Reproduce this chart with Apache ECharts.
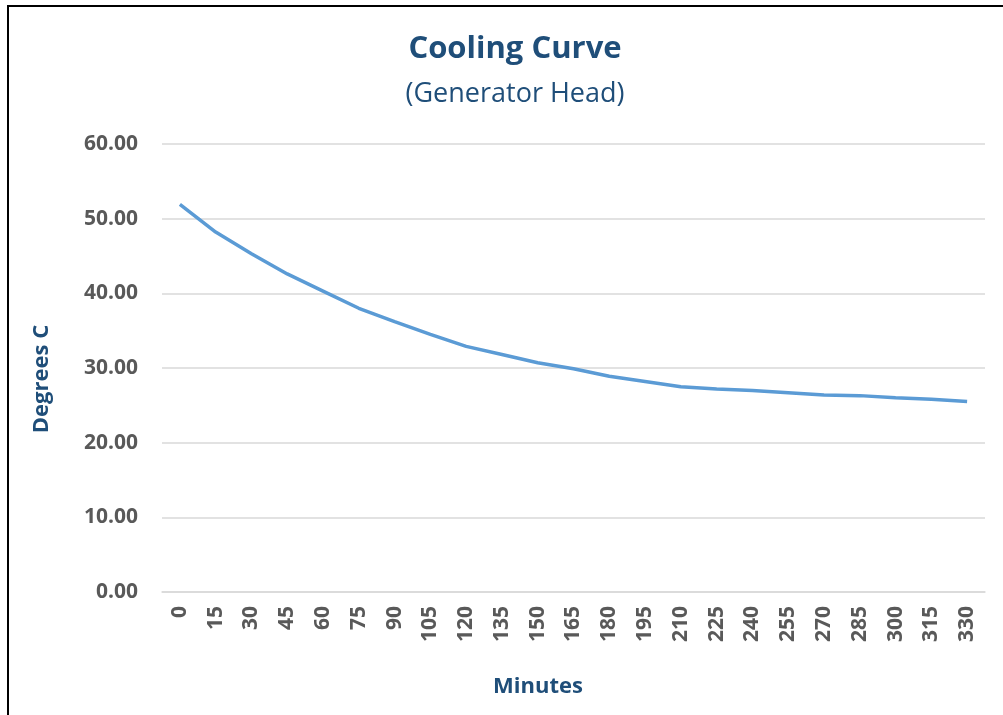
<!DOCTYPE html>
<html>
<head>
<meta charset="utf-8">
<script src="https://cdn.jsdelivr.net/npm/echarts@6/dist/echarts.min.js"></script>
<style>
  html, body { margin: 0; padding: 0; background: #fff; overflow: hidden; }
  #frame { position: absolute; left: 7px; top: 5px; width: 1100px; height: 800px; border: 2px solid #000; }
  #chart { position: absolute; left: 0; top: 0; width: 1003px; height: 715px; }
</style>
</head>
<body>
<div id="frame"></div>
<div id="chart"></div>
<script>
var minutes = ['0', '15', '30', '45', '60', '75', '90', '105', '120', '135', '150', '165',
  '180', '195', '210', '225', '240', '255', '270', '285', '300', '315', '330'];
var degrees = [51.9, 48.2, 45.3, 42.6, 40.3, 38.0, 36.2, 34.5, 32.9, 31.8, 30.7, 29.9,
  28.9, 28.2, 27.5, 27.2, 27.0, 26.7, 26.4, 26.3, 26.0, 25.8, 25.5];

var fontName = 'Open Sans';
var darkBlue = '#1F4E79';

var option = {
  animation: false,
  title: [
    {
      text: 'Cooling Curve',
      left: 510, top: 29, textAlign: 'center',
      textStyle: { fontFamily: fontName, fontSize: 31, fontWeight: 'bold', color: darkBlue }
    },
    {
      text: '(Generator Head)',
      left: 510, top: 76, textAlign: 'center',
      textStyle: { fontFamily: fontName, fontSize: 27, fontWeight: 'normal', color: darkBlue }
    }
  ],
  graphic: [
    {
      type: 'text', x: 42, y: 379, rotation: Math.PI / 2,
      style: {
        text: 'Degrees C', align: 'center', verticalAlign: 'middle',
        font: 'bold 22px "Open Sans"', fill: darkBlue
      }
    },
    {
      type: 'text', x: 538, y: 687,
      style: {
        text: 'Minutes', align: 'center', verticalAlign: 'middle',
        font: 'bold 22px "Open Sans"', fill: darkBlue
      }
    }
  ],
  grid: { left: 162, right: 18, top: 144, bottom: 123 },
  xAxis: {
    type: 'category',
    data: minutes,
    boundaryGap: true,
    axisLine: { lineStyle: { color: '#d9d9d9', width: 1.5 } },
    axisTick: { show: false },
    axisLabel: {
      rotate: 90, interval: 0, margin: 14,
      fontFamily: fontName, fontSize: 21, fontWeight: 'bold', color: '#595959'
    }
  },
  yAxis: {
    type: 'value',
    min: 0, max: 60, interval: 10,
    axisLine: { show: false },
    axisTick: { show: false },
    splitLine: { lineStyle: { color: '#d9d9d9', width: 1.5 } },
    axisLabel: {
      margin: 24,
      fontFamily: fontName, fontSize: 21, fontWeight: 'bold', color: '#595959',
      formatter: function (v) { return v.toFixed(2); }
    }
  },
  series: [
    {
      type: 'line',
      data: degrees,
      showSymbol: false,
      lineStyle: { color: '#5B9BD5', width: 3.5 },
      itemStyle: { color: '#5B9BD5' }
    }
  ]
};

var chart = echarts.init(document.getElementById('chart'));
chart.setOption(option);
</script>
</body>
</html>
